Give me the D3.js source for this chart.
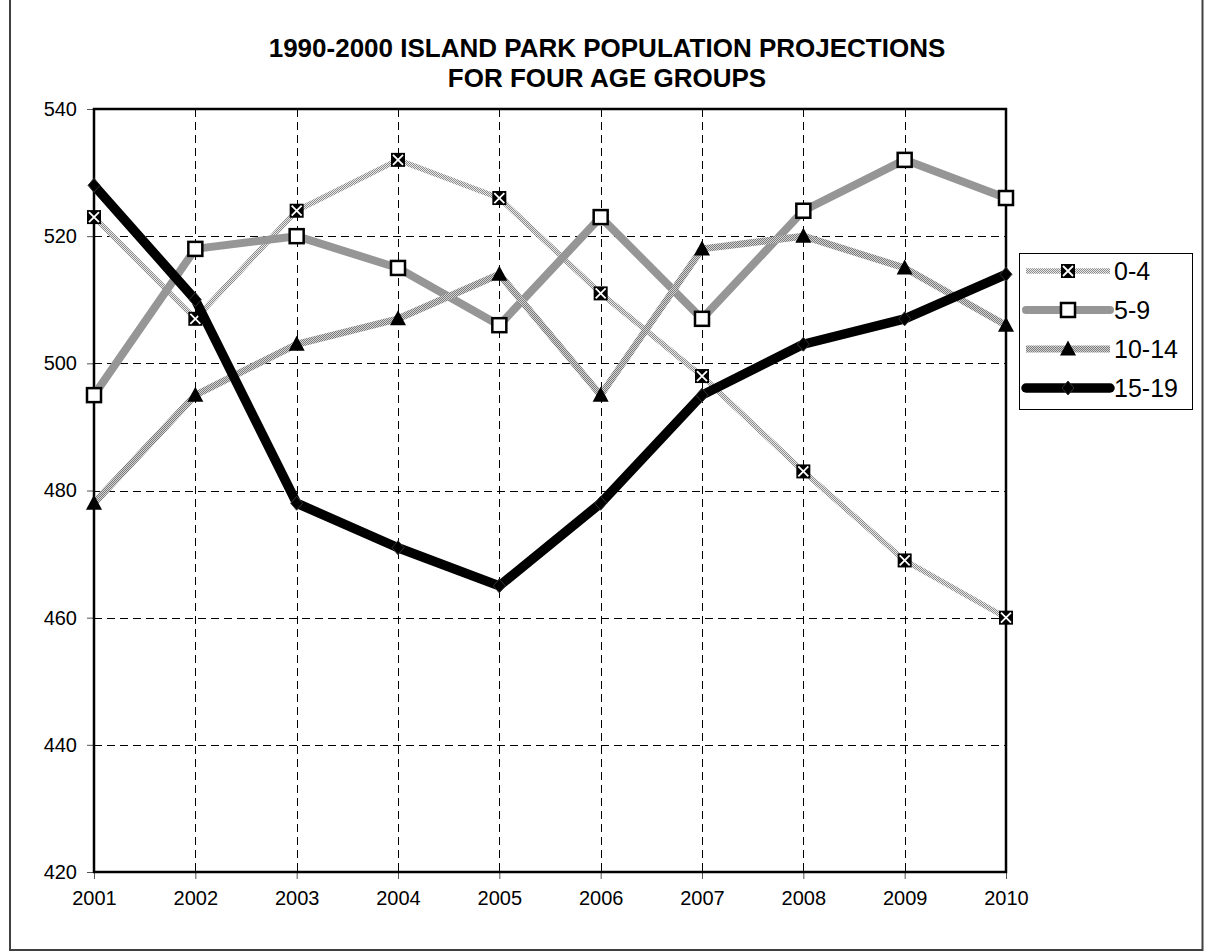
<!DOCTYPE html>
<html>
<head>
<meta charset="utf-8">
<script src="https://cdn.jsdelivr.net/npm/d3@7"></script>
<style>
  body { margin: 0; background: #fff; }
  svg { display: block; font-family: "Liberation Sans", Arial, sans-serif; }
</style>
</head>
<body>
<div id="chart"></div>
<script>
// DATA
const years = [2001, 2002, 2003, 2004, 2005, 2006, 2007, 2008, 2009, 2010];
const age0to4 = [523, 507, 524, 532, 526, 511, 498, 483, 469, 460];
const age5to9 = [495, 518, 520, 515, 506, 523, 507, 524, 532, 526];
const age10to14 = [478, 495, 503, 507, 514, 495, 518, 520, 515, 506];
const age15to19 = [528, 510, 478, 471, 465, 478, 495, 503, 507, 514];
const seriesNames = ["0-4", "5-9", "10-14", "15-19"];
const yTicks = [420, 440, 460, 480, 500, 520, 540];
const titleLines = ["1990-2000 ISLAND PARK POPULATION PROJECTIONS", "FOR FOUR AGE GROUPS"];

// SETUP
const width = 1205, height = 951;
const plot = {left: 94, right: 1006, top: 109, bottom: 872};

const svg = d3.select("#chart").append("svg")
    .attr("width", width)
    .attr("height", height);

const defs = svg.append("defs");
function stipple(id, dark, light) {
    const p = defs.append("pattern")
        .attr("id", id)
        .attr("patternUnits", "userSpaceOnUse")
        .attr("width", 2).attr("height", 2);
    p.append("rect").attr("width", 2).attr("height", 2).attr("fill", light);
    p.append("rect").attr("width", 1).attr("height", 1).attr("fill", dark);
    p.append("rect").attr("x", 1).attr("y", 1).attr("width", 1).attr("height", 1).attr("fill", dark);
}
stipple("stip1", "#8c8c8c", "#e8e8e8");
stipple("stip2", "#7a7a7a", "#d4d4d4");

// outer frame
svg.append("path")
    .attr("d", "M10,-2 V950 H1202.5 V-2")
    .attr("fill", "none")
    .attr("stroke", "#404040")
    .attr("stroke-width", 2);

const x = d3.scaleLinear().domain([years[0], years[years.length - 1]]).range([plot.left, plot.right]);
const y = d3.scaleLinear().domain([420, 540]).range([plot.bottom, plot.top]);

// title
svg.append("g").selectAll("text")
    .data(titleLines)
    .enter().append("text")
    .attr("x", 607)
    .attr("y", (d, i) => 57 + i * 30)
    .attr("text-anchor", "middle")
    .attr("font-size", 26)
    .attr("font-weight", "bold")
    .text(d => d);

// gridlines
const grid = svg.append("g")
    .attr("stroke", "#000")
    .attr("stroke-width", 1)
    .attr("stroke-dasharray", "8,5");
grid.selectAll(".hg")
    .data(yTicks.slice(1, -1))
    .enter().append("line")
    .attr("x1", plot.left).attr("x2", plot.right)
    .attr("y1", d => Math.round(y(d)) + 0.5)
    .attr("y2", d => Math.round(y(d)) + 0.5);
grid.selectAll(".vg")
    .data(years.slice(1, -1))
    .enter().append("line")
    .attr("y1", plot.top).attr("y2", plot.bottom)
    .attr("x1", d => Math.round(x(d)) + 0.5)
    .attr("x2", d => Math.round(x(d)) + 0.5);

// axes
const yAxis = svg.append("g")
    .attr("transform", "translate(" + plot.left + ",0)")
    .call(d3.axisLeft(y).tickValues(yTicks).tickSize(7).tickPadding(10));
const xAxis = svg.append("g")
    .attr("transform", "translate(0," + plot.bottom + ")")
    .call(d3.axisBottom(x).tickValues(years).tickFormat(d3.format("d")).tickSize(7).tickPadding(12));
[yAxis, xAxis].forEach(a => {
    a.select(".domain").remove();
    a.selectAll("line").attr("stroke", "#555").attr("stroke-width", 1);
    a.selectAll("text")
        .attr("font-size", 20)
        .attr("fill", "#000")
        .attr("font-family", "'Liberation Sans', Arial, sans-serif");
});

// plot border
svg.append("rect")
    .attr("x", plot.left).attr("y", plot.top)
    .attr("width", plot.right - plot.left)
    .attr("height", plot.bottom - plot.top)
    .attr("fill", "none")
    .attr("stroke", "#000")
    .attr("stroke-width", 2.5);

// SERIES
const series = [
    {name: seriesNames[0], values: age0to4, stroke: "url(#stip1)", width: 5.5, marker: "xbox"},
    {name: seriesNames[1], values: age5to9, stroke: "#969696", width: 8, marker: "square"},
    {name: seriesNames[2], values: age10to14, stroke: "url(#stip2)", width: 7, marker: "triangle"},
    {name: seriesNames[3], values: age15to19, stroke: "#000", width: 9.5, marker: "diamond"}
];

function drawMarker(g, type, cx, cy) {
    if (type === "xbox") {
        g.append("rect").attr("x", cx - 7).attr("y", cy - 7).attr("width", 14).attr("height", 14).attr("fill", "#000");
        g.append("path")
            .attr("d", `M${cx - 5},${cy - 5}L${cx + 5},${cy + 5}M${cx + 5},${cy - 5}L${cx - 5},${cy + 5}`)
            .attr("stroke", "#fff").attr("stroke-width", 1.8);
    } else if (type === "square") {
        g.append("rect").attr("x", cx - 7).attr("y", cy - 7).attr("width", 14).attr("height", 14)
            .attr("fill", "#fff").attr("stroke", "#000").attr("stroke-width", 2.5);
    } else if (type === "triangle") {
        g.append("path")
            .attr("d", `M${cx},${cy - 8.5}L${cx + 8},${cy + 6.5}L${cx - 8},${cy + 6.5}Z`)
            .attr("fill", "#000");
    } else {
        g.append("path")
            .attr("d", `M${cx},${cy - 7}L${cx + 6},${cy}L${cx},${cy + 7}L${cx - 6},${cy}Z`)
            .attr("fill", "#000").attr("stroke", "#333").attr("stroke-width", 1);
    }
}

const line = d3.line()
    .x((d, i) => x(years[i]))
    .y(d => y(d));

series.forEach(s => {
    const g = svg.append("g");
    g.append("path")
        .attr("d", line(s.values))
        .attr("fill", "none")
        .attr("stroke", s.stroke)
        .attr("stroke-width", s.width)
        .attr("stroke-linejoin", "round");
    s.values.forEach((v, i) => drawMarker(g, s.marker, x(years[i]), y(v)));
});

// LEGEND
const legend = svg.append("g");
legend.append("rect")
    .attr("x", 1019.5).attr("y", 253.5)
    .attr("width", 173).attr("height", 156)
    .attr("fill", "#fff")
    .attr("stroke", "#000")
    .attr("stroke-width", 1);
series.forEach((s, i) => {
    const ly = 271 + i * 39;
    const g = legend.append("g");
    g.append("line")
        .attr("x1", 1026).attr("x2", 1110)
        .attr("y1", ly).attr("y2", ly)
        .attr("stroke", s.stroke)
        .attr("stroke-width", s.width)
        .attr("stroke-linecap", s.marker === "square" || s.marker === "diamond" ? "round" : "butt");
    drawMarker(g, s.marker, 1068, ly);
    g.append("text")
        .attr("x", 1114)
        .attr("y", ly + 9)
        .attr("font-size", 25)
        .text(s.name);
});
</script>
</body>
</html>
